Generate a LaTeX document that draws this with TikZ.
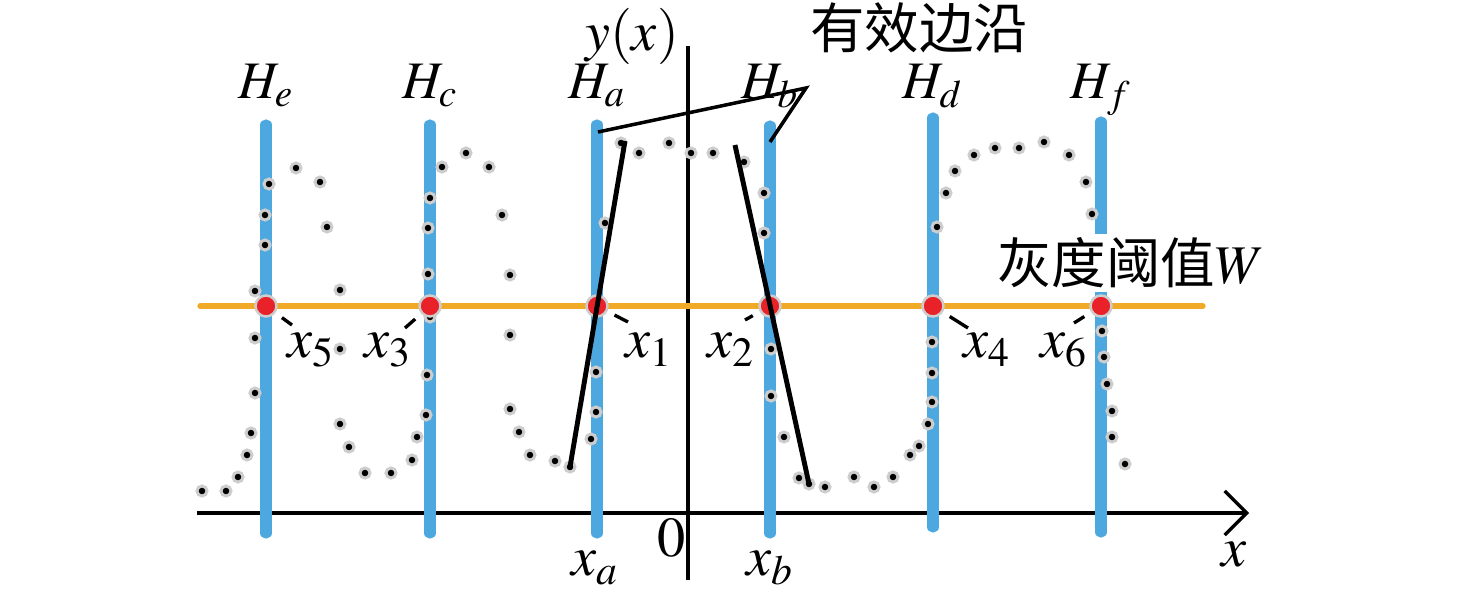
\documentclass[tikz,border=0pt]{standalone}
\usepackage{mathptmx}
\usepackage{fontspec}
\newfontfamily\cjk{Noto Sans CJK SC}
\usepackage{tikz}
\usetikzlibrary{arrows.meta}

\definecolor{lineblue}{RGB}{77,168,224}
\definecolor{thrline}{RGB}{240,170,40}
\definecolor{hitred}{RGB}{232,34,40}
\definecolor{halo}{RGB}{205,205,205}

\begin{document}
\begin{tikzpicture}[x=0.1mm,y=-0.1mm]
            \useasboundingbox (0,0) rectangle (1476,603);

            \coordinate (xs) at (197,513);
            \coordinate (xe) at (1249,513);
            \coordinate (ys) at (688,580);
            \coordinate (ye) at (688,46);
            \draw[line width=0.95pt,-{Straight Barb[length=2.2mm,width=4.4mm]}] (xs) -- (xe);
            \draw[line width=0.95pt] (ys) -- (ye);

            \begin{scope}[every edge/.style={draw=lineblue,line width=3.2pt,line cap=round}]
                \coordinate (He1) at (266,125);
                \coordinate (He2) at (266,533);
                \coordinate (Hc1) at (430,125);
                \coordinate (Hc2) at (430,533);
                \coordinate (Ha1) at (597,125);
                \coordinate (Ha2) at (597,533);
                \coordinate (Hb1) at (770,126);
                \coordinate (Hb2) at (770,533);
                \coordinate (Hd1) at (933,118);
                \coordinate (Hd2) at (933,527);
                \coordinate (Hf1) at (1101,122);
                \coordinate (Hf2) at (1101,532);

                \path [-] (He1) edge (He2);
                \path [-] (Hc1) edge (Hc2);
                \path [-] (Ha1) edge (Ha2);
                \path [-] (Hb1) edge (Hb2);
                \path [-] (Hd1) edge (Hd2);
                \path [-] (Hf1) edge (Hf2);
            \end{scope}

            \begin{scope}[every node/.style={circle,fill=black,draw=halo,line width=0.3mm,inner sep=0pt,minimum size=1.0mm}]
                \node (d1) at (202,491) {};
                \node (d2) at (226,491) {};
                \node (d3) at (238,477) {};
                \node (d4) at (247,455) {};
                \node (d5) at (251,433) {};
                \node (d6) at (255,393) {};
                \node (d7) at (255,338) {};
                \node (d8) at (255,291) {};
                \node (d9) at (265,245) {};
                \node (d10) at (265,215) {};
                \node (d11) at (269,184) {};
                \node (d12) at (296,168) {};
                \node (d13) at (320,182) {};
                \node (d14) at (327,227) {};
                \node (d15) at (340,290) {};
                \node (d16) at (340,349) {};
                \node (d17) at (340,424) {};
                \node (d18) at (349,447) {};
                \node (d19) at (365,473) {};
                \node (d20) at (391,473) {};
                \node (d21) at (412,460) {};
                \node (d22) at (417,437) {};
                \node (d23) at (426,415) {};
                \node (d24) at (427,375) {};
                \node (d25) at (430,317) {};
                \node (d26) at (428,274) {};
                \node (d27) at (428,228) {};
                \node (d28) at (430,198) {};
                \node (d29) at (442,167) {};
                \node (d30) at (466,153) {};
                \node (d31) at (489,167) {};
                \node (d32) at (502,215) {};
                \node (d33) at (510,275) {};
                \node (d34) at (510,335) {};
                \node (d35) at (510,409) {};
                \node (d36) at (519,432) {};
                \node (d37) at (530,455) {};
                \node (d38) at (555,461) {};
                \node (d39) at (570,467) {};
                \node (d40) at (591,439) {};
                \node (d41) at (596,412) {};
                \node (d42) at (596,372) {};
                \node (d43) at (605,223) {};
                \node (d44) at (621,143) {};
                \node (d45) at (639,153) {};
                \node (d46) at (669,143) {};
                \node (d47) at (691,153) {};
                \node (d48) at (713,153) {};
                \node (d49) at (744,162) {};
                \node (d50) at (764,193) {};
                \node (d51) at (764,233) {};
                \node (d52) at (771,349) {};
                \node (d53) at (771,396) {};
                \node (d54) at (784,437) {};
                \node (d55) at (799,478) {};
                \node (d56) at (809,484) {};
                \node (d57) at (825,487) {};
                \node (d58) at (854,477) {};
                \node (d59) at (874,487) {};
                \node (d60) at (893,477) {};
                \node (d61) at (910,455) {};
                \node (d62) at (919,446) {};
                \node (d63) at (928,424) {};
                \node (d64) at (932,402) {};
                \node (d65) at (932,373) {};
                \node (d66) at (932,342) {};
                \node (d67) at (937,227) {};
                \node (d68) at (946,193) {};
                \node (d69) at (955,171) {};
                \node (d70) at (974,155) {};
                \node (d71) at (995,148) {};
                \node (d72) at (1019,148) {};
                \node (d73) at (1044,142) {};
                \node (d74) at (1069,155) {};
                \node (d75) at (1086,182) {};
                \node (d76) at (1092,214) {};
                \node (d77) at (1102,331) {};
                \node (d78) at (1104,357) {};
                \node (d79) at (1107,384) {};
                \node (d80) at (1112,411) {};
                \node (d81) at (1112,437) {};
                \node (d82) at (1125,464) {};
            \end{scope}

            \node[fill=white,inner sep=1pt,font=\fontsize{15.5}{18}\selectfont] (thr) at (1131,263) {{\cjk 灰度阈值}$W$};

            \coordinate (w1) at (200,306);
            \coordinate (w2) at (1203,306);
            \draw[thrline,line width=1.5pt,line cap=round] (w1) -- (w2);

            \begin{scope}[every node/.style={circle,fill=hitred,draw=halo,line width=0.25mm,inner sep=0pt,minimum size=2.1mm}]
                \node (r5) at (266,306) {};
                \node (r3) at (430,306) {};
                \node (r1) at (597,306) {};
                \node (r2) at (770,306) {};
                \node (r4) at (933,306) {};
                \node (r6) at (1101,306) {};
            \end{scope}

            \coordinate (ea) at (625,141);
            \coordinate (eb) at (735,145);
            \draw[line width=1.4pt] (d39.center) -- (ea);
            \draw[line width=1.4pt] (eb) -- (d56.center);

            \begin{scope}[every node/.style={font=\fontsize{16}{19}\selectfont}]
                \node (l5) at (311,350) {$x_5$};
                \node (l3) at (388,350) {$x_3$};
                \node (l1) at (649,350) {$x_1$};
                \node (l2) at (731,350) {$x_2$};
                \node (l4) at (987,350) {$x_4$};
                \node (l6) at (1064,350) {$x_6$};
                \node (la) at (595,568) {$x_a$};
                \node (lb) at (770,568) {$x_b$};
                \node (l0) at (672,538) {$0$};
                \node (lx) at (1234,555) {$x$};
                \node (ly) at (632,36) {$y(x)$};
            \end{scope}

            \coordinate (q5) at (292,325);
            \coordinate (q3) at (405,328);
            \coordinate (q1) at (628,322);
            \coordinate (q2) at (745,320);
            \coordinate (q4) at (968,328);
            \coordinate (q6) at (1074,323);
            \begin{scope}[every edge/.style={draw,line width=0.95pt,shorten <=0.8mm}]
                \path [-] (r5) edge (q5);
                \path [-] (r3) edge (q3);
                \path [-] (r1) edge (q1);
                \path [-] (r2) edge (q2);
                \path [-] (r4) edge (q4);
                \path [-] (r6) edge (q6);
            \end{scope}

            \begin{scope}[every node/.style={anchor=base,font=\fontsize{15}{18}\selectfont}]
                \node (He) at (266,99) {$H_e$};
                \node (Hc) at (430,99) {$H_c$};
                \node (Ha) at (597,99) {$H_a$};
                \node (Hb) at (770,99) {$H_b$};
                \node (Hd) at (933,99) {$H_d$};
                \node (Hf) at (1101,99) {$H_f$};
            \end{scope}

            \node[font=\fontsize{15.5}{18}\selectfont] (edge) at (919,28) {\cjk 有效边沿};
            \coordinate (ka) at (598,132);
            \coordinate (kb) at (806,88);
            \coordinate (kc) at (770,142);
            \draw[line width=1pt] (ka) -- (kb) -- (kc);
        \end{tikzpicture}
\end{document}
